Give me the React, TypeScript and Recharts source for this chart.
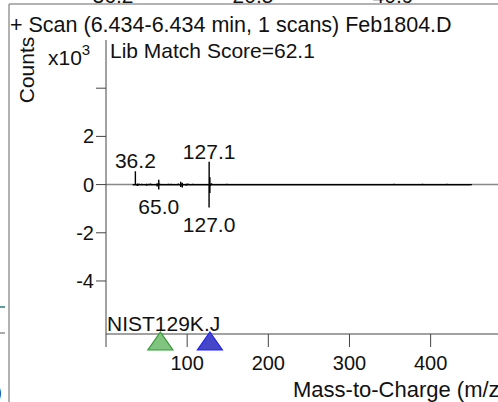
import React from 'react';
import { ComposedChart, Line, Scatter, XAxis, YAxis, ReferenceLine } from 'recharts';

const FONT = '"Liberation Sans", Arial, sans-serif';

// scan range of both spectra (m/z)
const sampleRange = [33, 451];
const libraryRange = [33, 449];

// sample spectrum, counts x10^3
const samplePeaks: [number, number][] = [
  [36.2, 0.55], [39, 0.05], [41, 0.04], [44, 0.03], [50, 0.04], [53, 0.03],
  [55, 0.05], [63, 0.06], [65, 0.2], [66, 0.05], [77, 0.04], [80, 0.03],
  [89, 0.05], [92, 0.12], [94, 0.08], [99, 0.04], [101, 0.05], [107, 0.04],
  [127.1, 0.95], [128, 0.3], [130, 0.06], [149, 0.03], [300, 0.02], [320, 0.02],
  [340, 0.02], [355, 0.03], [370, 0.02], [390, 0.03], [405, 0.02], [420, 0.03], [440, 0.02],
];

// library (NIST) spectrum, drawn downwards
const libraryPeaks: [number, number][] = [
  [38, -0.04], [39, -0.06], [50, -0.05], [63, -0.08], [65, -0.2], [92, -0.1],
  [94, -0.12], [99, -0.05], [127, -0.95], [128, -0.35], [129, -0.05],
];

const peakLabels = [
  { mz: 36.2, v: 0.55, text: '36.2' },
  { mz: 127.1, v: 0.95, text: '127.1' },
  { mz: 65.0, v: -0.2, text: '65.0' },
  { mz: 127.0, v: -0.95, text: '127.0' },
];

const Y_MIN = -6.2;
const Y_MAX = 6;

const markers = [
  { mz: 67, v: Y_MIN, fill: '#80c480', stroke: '#2f9a2f' },
  { mz: 128, v: Y_MIN, fill: '#4646c8', stroke: '#1f1fff' },
];

const xTicks = [0, 100, 200, 300, 400];
const yTicks = [-4, -2, 0, 2, 4];

function sticks(peaks: [number, number][], range: number[]) {
  const pts = [{ mz: range[0], v: 0 }];
  peaks.forEach(([mz, v]) => {
    pts.push({ mz, v: 0 }, { mz, v }, { mz, v: 0 });
  });
  pts.push({ mz: range[1], v: 0 });
  return pts;
}

const PeakLabel = (props: any) => {
  const { cx, cy, payload } = props;
  const y = payload.v >= 0 ? cy - 3 : cy + 25;
  return (
    <text x={cx} y={y} textAnchor="middle" fontSize={21} fontFamily={FONT} fill="#111">
      {payload.text}
    </text>
  );
};

const Triangle = (props: any) => {
  const { cx, cy, payload } = props;
  const pts = `${cx},${cy - 2} ${cx - 12.5},${cy + 16} ${cx + 12.5},${cy + 16}`;
  return <polygon points={pts} fill={payload.fill} stroke={payload.stroke} strokeWidth={1.2} />;
};

export default function App() {
  return (
    <div style={{ position: 'absolute', left: 0, top: 0 }}>
      <ComposedChart width={498} height={402} margin={{ top: 40, right: 0, bottom: 28, left: 46 }}>
        {/* panel frame and bits of the neighbouring panels */}
        <line x1={9} y1={4} x2={498} y2={4} stroke="#999" strokeWidth={1.5} />
        <line x1={9} y1={4} x2={9} y2={402} stroke="#999" strokeWidth={1.5} />
        <line x1={0} y1={307} x2={5} y2={307} stroke="#2a7a7a" strokeWidth={1.5} />
        <line x1={0} y1={333} x2={5} y2={333} stroke="#555" strokeWidth={1} />
        <text x={-5} y={399} fontSize={21} fontFamily={FONT} fill="#111">)</text>
        <g fontSize={21} fontFamily={FONT} fill="#111">
          <text x={113} y={2.5} textAnchor="middle">36.2</text>
          <text x={253} y={2.5} textAnchor="middle">20.5</text>
          <text x={393} y={2.5} textAnchor="middle">40.9</text>
        </g>

        <text x={10} y={32} fontSize={21.5} fontFamily={FONT} fill="#111">
          + Scan (6.434-6.434 min, 1 scans) Feb1804.D
        </text>
        <text x={110} y={58} fontSize={21} fontFamily={FONT} fill="#111">Lib Match Score=62.1</text>
        <text x={48} y={65} fontSize={21} fontFamily={FONT} fill="#111">
          x10<tspan dy={-10} fontSize={15}>3</tspan>
        </text>
        <text
          x={26}
          y={70}
          transform="rotate(-90 26 70)"
          textAnchor="middle"
          dominantBaseline="central"
          fontSize={21}
          fontFamily={FONT}
          fill="#111"
        >
          Counts
        </text>
        <text x={107} y={331} fontSize={21} fontFamily={FONT} fill="#111">NIST129K.J</text>
        <text x={293} y={397} fontSize={22} fontFamily={FONT} fill="#111">Mass-to-Charge (m/z)</text>

        <XAxis
          type="number"
          dataKey="mz"
          domain={[0, 483]}
          ticks={xTicks}
          tickFormatter={(t: number) => (t === 0 ? '' : String(t))}
          height={40}
          tickSize={13}
          tickMargin={9}
          stroke="#444"
          tick={{ fill: '#111', fontSize: 20, fontFamily: FONT }}
        />
        <YAxis
          type="number"
          dataKey="v"
          domain={[Y_MIN, Y_MAX]}
          ticks={yTicks}
          tickFormatter={(t: number) => (t === 4 ? '' : String(t))}
          width={60}
          tickSize={10}
          stroke="#444"
          tick={{ fill: '#111', fontSize: 20, fontFamily: FONT }}
        />
        <ReferenceLine y={0} stroke="#888" strokeWidth={1.5} />
        <Line
          data={sticks(libraryPeaks, libraryRange)}
          dataKey="v"
          type="linear"
          stroke="#000"
          strokeWidth={1.4}
          dot={false}
          isAnimationActive={false}
        />
        <Line
          data={sticks(samplePeaks, sampleRange)}
          dataKey="v"
          type="linear"
          stroke="#000"
          strokeWidth={1.4}
          dot={false}
          isAnimationActive={false}
        />
        <Scatter data={peakLabels} dataKey="v" shape={PeakLabel} isAnimationActive={false} />
        <Scatter data={markers} dataKey="v" shape={Triangle} isAnimationActive={false} />
      </ComposedChart>
    </div>
  );
}
